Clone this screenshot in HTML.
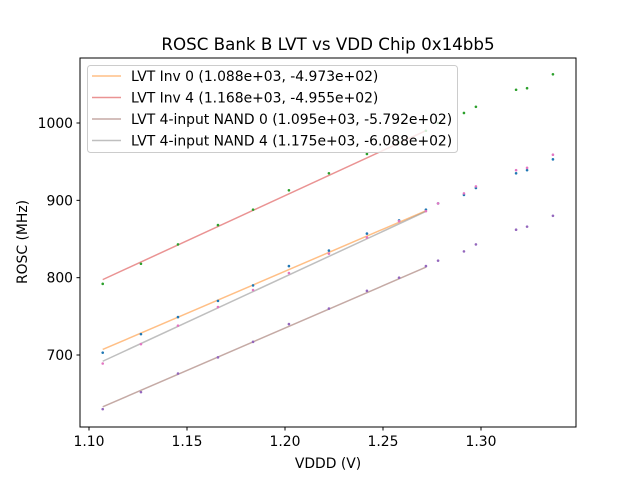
<!DOCTYPE html>
<html><head><meta charset="utf-8"><style>
body{margin:0;background:#fff}
svg text{font-family:"DejaVu Sans","Liberation Sans",sans-serif;fill:#000}
</style></head><body>
<svg id="chart" width="640" height="480" xmlns="http://www.w3.org/2000/svg">
<rect width="640" height="480" fill="#fff"/>
<text x="328" y="50" font-size="16.7" text-anchor="middle">ROSC Bank B LVT vs VDD Chip 0x14bb5</text>
<g id="plot"></g>
<rect x="80" y="58" width="496" height="369" fill="none" stroke="#000" stroke-width="1"/>
<text x="328" y="468" font-size="13.9" text-anchor="middle">VDDD (V)</text>
<text x="27" y="242" font-size="13.9" text-anchor="middle" transform="rotate(-90 27 242)">ROSC (MHz)</text>
<g id="legend">
<rect x="87.5" y="65.5" width="370" height="87" rx="3" fill="#fff" fill-opacity="0.8" stroke="#ccc"/>
</g>
</svg>
<script>
const xTicks=[1.10,1.15,1.20,1.25,1.30];
const yTicks=[700,800,900,1000];
const vdd=[1.107,1.1265,1.1454,1.1658,1.1837,1.202,1.2224,1.2418,1.2582,1.2719,1.2781,1.2913,1.2974,1.3179,1.3235,1.3367];
const inv0=[703,727,749,770,790,815,835,857,874,888,896,907,916,935,939,953];
const inv4=[792,818,843,868,888,913,935,960,975,990,1000,1013,1021,1043,1045,1063];
const nand0=[630,652,676,697,717,740,760,783,800,815,822,834,843,862,866,880];
const nand4=[689,714,738,762,784,806,831,852,873,886,896,909,918,939,942,959];
const fitSlopes=[1088,1168,1095,1175];
const fitIntercepts=[-497.3,-495.5,-579.2,-608.8];
const fitLabels=["LVT Inv 0 (1.088e+03, -4.973e+02)","LVT Inv 4 (1.168e+03, -4.955e+02)","LVT 4-input NAND 0 (1.095e+03, -5.792e+02)","LVT 4-input NAND 4 (1.175e+03, -6.088e+02)"];
const fitRange=[1.107,1.272];

const NS="http://www.w3.org/2000/svg";
const X=v=>89+(v-1.10)*1960;
const Y=m=>355-(m-700)*0.7733;
function mk(tag,attrs,parent){const e=document.createElementNS(NS,tag);for(const k in attrs)e.setAttribute(k,attrs[k]);parent.appendChild(e);return e;}
const svg=document.getElementById('chart');
const plot=document.getElementById('plot');
xTicks.forEach(t=>{
  const l=mk('line',{x1:X(t),x2:X(t),y1:427,y2:430.5,stroke:'#000'},svg);
  
  
  const tx=mk('text',{x:X(t),y:446,'font-size':13.9,'text-anchor':'middle'},svg);
  tx.textContent=t.toFixed(2);
  
  
});
yTicks.forEach(t=>{
  const l=mk('line',{x1:76.5,x2:80,y1:Y(t),y2:Y(t),stroke:'#000'},svg);
  
  
  const tx=mk('text',{x:73,y:Y(t)+5,'font-size':13.9,'text-anchor':'end'},svg);
  tx.textContent=String(t);
  
  
});
const lineColors=['rgba(255,127,14,0.5)','rgba(214,39,40,0.5)','rgba(140,86,75,0.5)','rgba(127,127,127,0.5)'];
fitSlopes.forEach((s,i)=>{
  const b=fitIntercepts[i];
  const l=mk('line',{x1:X(fitRange[0]),y1:Y(s*fitRange[0]+b),x2:X(fitRange[1]),y2:Y(s*fitRange[1]+b),stroke:lineColors[i],'stroke-width':1.5},plot);
  
  
});
const series=[[inv0,'#1f77b4'],[inv4,'#2ca02c'],[nand0,'#9467bd'],[nand4,'#e377c2']];
series.forEach(([vals,c],si)=>{
  vals.forEach((m,j)=>{
    const p=mk('circle',{cx:X(vdd[j]),cy:Y(m),r:1.3,fill:c},plot);
    
    
  });
});
const lg=document.getElementById('legend');
fitLabels.forEach((t,i)=>{
  const y=76+i*21.5;
  const l=mk('line',{x1:92,x2:121,y1:y,y2:y,stroke:lineColors[i],'stroke-width':1.5},lg);
  
  
  const tx=mk('text',{x:131,y:y+5,'font-size':13.9},lg);
  tx.textContent=t;
  
  
});
</script>
</body></html>
